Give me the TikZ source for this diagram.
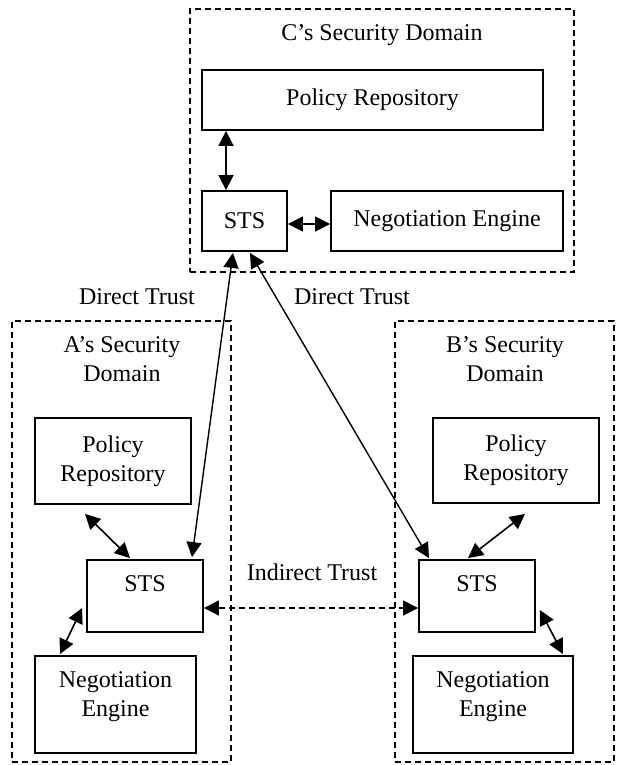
\documentclass[tikz,border=0pt]{standalone}
\usepackage{fontspec}
\setmainfont{Liberation Serif}
\usetikzlibrary{arrows.meta,fit}
\begin{document}
\begin{tikzpicture}[x=0.5pt,y=-0.5pt,
  box/.style={draw, line width=0.9pt, inner sep=0pt, align=center,
    font=\fontsize{12}{14.5}\selectfont},
  domainbox/.style={draw, dash pattern=on 3pt off 2pt, line width=0.8pt, inner sep=0pt},
  lbl/.style={font=\fontsize{12}{14.5}\selectfont, align=center, inner sep=0pt},
  tip/.tip={Triangle[length=7.5pt,width=7.5pt]},
  link/.style={line width=0.8pt, tip-tip},
  thinlink/.style={line width=0.7pt, tip-tip},
  trustlink/.style={line width=0.8pt, tip-tip, dash pattern=on 3pt off 2pt},
]
\useasboundingbox (0,0) rectangle (616,765);

% C's security domain
\node[domainbox, fit={(190,9) (574,272)}] (domC) {};
\node[lbl] (titleC) at (382,35) {C’s Security Domain};
\node[box, minimum width=170.5pt, minimum height=30pt] (prC) at (372.5,100) {Policy Repository};
\node[box, minimum width=42.5pt, minimum height=30pt] (stsC) at (244.5,221) {STS};
\node[box, minimum width=116pt, minimum height=30pt] (neC) at (447,221) {Negotiation Engine};

% A's security domain
\node[domainbox, fit={(12,321) (231,762)}] (domA) {};
\node[lbl] (titleA) at (122,359) {A’s Security\\Domain};
\node[box, minimum width=78pt, minimum height=43pt] (prA) at (113,461) {Policy\\Repository};
\node[box, minimum width=58pt, minimum height=36pt,
  label={[lbl, anchor=center, yshift=-12.5pt]north:STS}] (stsA) at (145,596) {};
\node[box, minimum width=80.5pt, minimum height=48.5pt,
  label={[lbl, anchor=center, yshift=4pt]center:Negotiation\\Engine}] (neA) at (115.5,704.5) {};

% B's security domain
\node[domainbox, fit={(395,321) (614,762)}] (domB) {};
\node[lbl] (titleB) at (505,359) {B’s Security\\Domain};
\node[box, minimum width=83pt, minimum height=42.5pt] (prB) at (516,460.5) {Policy\\Repository};
\node[box, minimum width=58pt, minimum height=36pt,
  label={[lbl, anchor=center, yshift=-12.5pt]north:STS}] (stsB) at (477,596) {};
\node[box, minimum width=80pt, minimum height=48.5pt,
  label={[lbl, anchor=center, yshift=4pt]center:Negotiation\\Engine}] (neB) at (493,704.5) {};

% trust labels
\node[lbl] (dtA) at (137,297) {Direct Trust};
\node[lbl] (dtB) at (352,297) {Direct Trust};
\node[lbl] (itAB) at (312,572) {Indirect Trust};

% links inside C
\draw[link] ([shift={(-18.5,0)}]prC.south -| stsC.north) -- ([shift={(-18.5,0)}]stsC.north);
\draw[link] ([shift={(0,3)}]stsC.east) -- ([shift={(0,3)}]stsC.east -| neC.west);

% links inside A
\draw[link] ([shift={(-28,9)}]prA.south) -- ([shift={(-15,-1)}]stsA.north);
\draw[link] ([shift={(-55.5,-1)}]neA.north) -- ([shift={(-4,12)}]stsA.west);

% links inside B
\draw[link] ([shift={(9,10)}]prB.south) -- ([shift={(-9,-1)}]stsB.north);
\draw[link] ([shift={(4,14)}]stsB.east) -- ([shift={(70,-1)}]neB.north);

% trust relations
\draw[thinlink] ([shift={(-11.5,1)}]stsC.south) -- ([shift={(47,-2)}]stsA.north);
\draw[thinlink] ([shift={(5.5,1)}]stsC.south) -- ([shift={(-48,-1)}]stsB.north);
\draw[trustlink] ([shift={(0,12)}]stsA.east) -- ([shift={(0,12)}]stsB.west);
\end{tikzpicture}
\end{document}
